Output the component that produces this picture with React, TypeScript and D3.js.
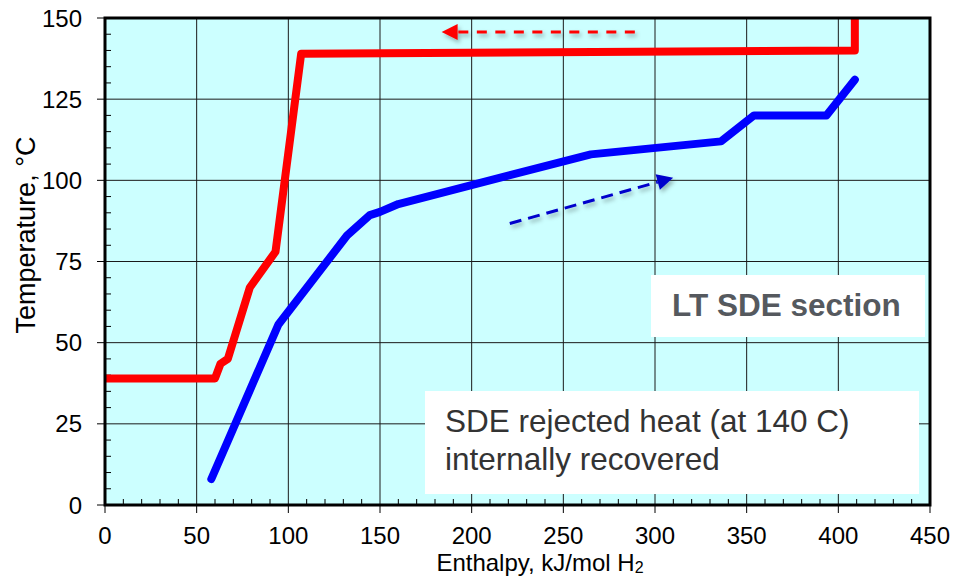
import React from "react";
import * as d3 from "d3";

const redX = [0, 60, 63, 67, 79, 93, 107, 409, 409];
const redY = [39, 39, 43.5, 45, 67, 78, 139, 140, 155];
const blueX = [58, 94.5, 132, 144.5, 150, 160, 265, 336, 354, 393.5, 409];
const blueY = [8, 55.5, 83, 89.3, 90.3, 92.7, 108, 112, 120, 120, 131];
const xTicks = [0, 50, 100, 150, 200, 250, 300, 350, 400, 450];
const yTicks = [0, 25, 50, 75, 100, 125, 150];
const redArrow = [[289, 145.7], [183.6, 145.7]];
const blueArrow = [[220.8, 86.7], [309.9, 100.8]];
const xTitle = "Enthalpy, kJ/mol H";
const yTitle = "Temperature, °C";
const box1Text = "LT SDE section";
const box2Lines = ["SDE rejected heat (at 140 C)", "internally recovered"];

const W = 961, H = 577;
const L = 105, R = 930, T = 18, B = 505;
const FONT = "'Liberation Sans', Arial, sans-serif";

export default function App() {
  const x = d3.scaleLinear().domain([0, 450]).range([L, R]);
  const y = d3.scaleLinear().domain([0, 150]).range([B, T]);
  const line = d3.line<[number, number]>().x(d => x(d[0])).y(d => y(d[1]));
  const redPts = redX.map((v, i) => [v, redY[i]] as [number, number]);
  const bluePts = blueX.map((v, i) => [v, blueY[i]] as [number, number]);
  const xMinor = d3.range(10, 450, 10).filter(v => v % 50 !== 0);
  const yMinor = d3.range(5, 150, 5).filter(v => v % 25 !== 0);

  const arrow = (pts: number[][], color: string, dash: string, key: string) => {
    const x0 = x(pts[0][0]), y0 = y(pts[0][1]);
    const x1 = x(pts[1][0]), y1 = y(pts[1][1]);
    const ang = Math.atan2(y1 - y0, x1 - x0);
    const hl = 16, hw = 8;
    const bx = x1 - hl * Math.cos(ang), by = y1 - hl * Math.sin(ang);
    const px = -Math.sin(ang), py = Math.cos(ang);
    const head = `M${x1},${y1}L${bx + px * hw},${by + py * hw}L${bx - px * hw},${by - py * hw}Z`;
    return (
      <g key={key} filter="url(#shadow)">
        <line x1={x0} y1={y0} x2={bx} y2={by} stroke={color} strokeWidth={3} strokeDasharray={dash} />
        <path d={head} fill={color} />
      </g>
    );
  };

  return (
    <svg width={W} height={H} style={{ position: "absolute", left: 0, top: 0, background: "#fff" }} fontFamily={FONT}>
      <defs>
        <clipPath id="plot"><rect x={L} y={T} width={R - L} height={B - T} /></clipPath>
        <filter id="shadow" x="-20%" y="-50%" width="140%" height="200%">
          <feDropShadow dx={2} dy={3} stdDeviation={2} floodColor="#000" floodOpacity={0.3} />
        </filter>
      </defs>
      <rect x={L} y={T} width={R - L} height={B - T} fill="#CCFFFF" />
      {xTicks.filter(v => v > 0 && v < 450).map(v => (
        <line key={"gx" + v} x1={x(v)} x2={x(v)} y1={T} y2={B} stroke="#1a1a1a" strokeWidth={1} />
      ))}
      {yTicks.filter(v => v > 0 && v < 150).map(v => (
        <line key={"gy" + v} x1={L} x2={R} y1={y(v)} y2={y(v)} stroke="#1a1a1a" strokeWidth={1} />
      ))}
      {xMinor.map(v => (
        <line key={"mx" + v} x1={x(v)} x2={x(v)} y1={B} y2={B - 6} stroke="#000" strokeWidth={1} />
      ))}
      {yMinor.map(v => (
        <line key={"my" + v} x1={L} x2={L + 6} y1={y(v)} y2={y(v)} stroke="#000" strokeWidth={1} />
      ))}
      {xTicks.map(v => (
        <line key={"tx" + v} x1={x(v)} x2={x(v)} y1={B} y2={B + 8} stroke="#000" strokeWidth={1} />
      ))}
      {yTicks.map(v => (
        <line key={"ty" + v} x1={L - 8} x2={L} y1={y(v)} y2={y(v)} stroke="#000" strokeWidth={1} />
      ))}
      <g clipPath="url(#plot)">
        <path d={line(redPts) || ""} fill="none" stroke="#FF0000" strokeWidth={8} strokeLinejoin="round" strokeLinecap="round" />
        <path d={line(bluePts) || ""} fill="none" stroke="#0000FF" strokeWidth={8} strokeLinejoin="round" strokeLinecap="round" />
      </g>
      {arrow(redArrow, "#FF0000", "10 8.5", "ra")}
      {arrow(blueArrow, "#0000CC", "12 7", "ba")}
      <rect x={L} y={T} width={R - L} height={B - T} fill="none" stroke="#000" strokeWidth={3} />
      {xTicks.map(v => (
        <text key={"lx" + v} x={x(v)} y={544} textAnchor="middle" fontSize={24} fill="#000">{v}</text>
      ))}
      {yTicks.map(v => (
        <text key={"ly" + v} x={82} y={y(v) + 8.5} textAnchor="end" fontSize={24} fill="#000">{v}</text>
      ))}
      <text x={540} y={571} textAnchor="middle" fontSize={24} fill="#000">
        {xTitle}<tspan fontSize={16} dy={2}>2</tspan>
      </text>
      <text transform={`translate(35, 235) rotate(-90)`} textAnchor="middle" fontSize={27} fill="#000">{yTitle}</text>
      <rect x={651} y={275} width={274} height={62} fill="#fff" />
      <text x={672} y={316} fontSize={31.5} fontWeight="bold" fill="#55595e">{box1Text}</text>
      <rect x={425} y={391} width={494} height={103} fill="#fff" />
      {box2Lines.map((t, i) => (
        <text key={"b2" + i} x={445} y={432 + i * 38} fontSize={31.5} fill="#333">{t}</text>
      ))}
    </svg>
  );
}
